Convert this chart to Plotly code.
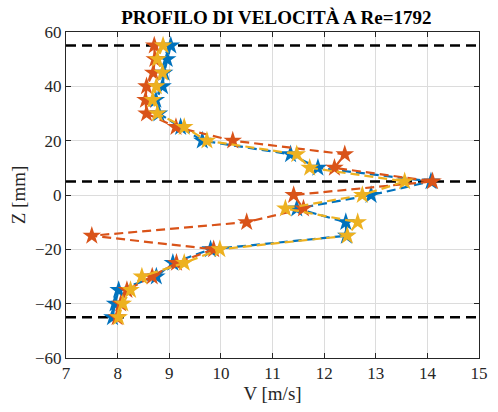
import plotly.graph_objects as go

z = [55, 50, 45, 40, 35, 30, 25, 20, 15, 10, 5, 0, -5, -10, -15, -20, -25, -30, -35, -40, -45]
v_blue = [9.03, 8.96, 8.90, 8.87, 8.74, 8.80, 9.22, 9.64, 11.35, 11.88, 14.07, 12.91, 11.47, 12.42, 12.43, 9.80, 9.07, 8.75, 8.02, 7.95, 7.90]
v_orange = [8.71, 8.72, 8.69, 8.56, 8.54, 8.56, 9.13, 10.23, 12.40, 12.20, 14.10, 11.41, 11.60, 10.50, 7.50, 9.86, 9.14, 8.67, 8.18, 8.06, 7.99]
v_yellow = [8.88, 8.77, 8.87, 8.75, 8.68, 8.77, 9.29, 9.73, 11.47, 11.72, 13.56, 12.74, 11.25, 12.65, 12.45, 9.98, 9.29, 8.47, 8.25, 8.10, 8.02]
ref_lines = [55, 5, -45]
x_range = [7, 15]
y_range = [-60, 60]

fig = go.Figure()
for zr in ref_lines:
    fig.add_trace(go.Scatter(x=x_range, y=[zr, zr], mode="lines",
                             line=dict(color="black", width=2.5, dash="10px,6px"),
                             showlegend=False, hoverinfo="skip"))

series = [(v_blue, "#0072BD"), (v_orange, "#D95319"), (v_yellow, "#EDB120")]
for vals, col in series:
    fig.add_trace(go.Scatter(x=vals, y=z, mode="lines+markers",
                             line=dict(color=col, width=2.2, dash="9px,5px"),
                             marker=dict(symbol="star", size=14, color=col,
                                         line=dict(width=0)),
                             showlegend=False))

axis_common = dict(showgrid=True, gridcolor="#dcdcdc", gridwidth=1,
                   zeroline=False, showline=True, linecolor="#262626", linewidth=1,
                   mirror="ticks", ticks="inside", ticklen=5, tickcolor="#262626",
                   tickfont=dict(family="Liberation Serif", size=17, color="#262626"))

fig.update_layout(
    width=498, height=412,
    margin=dict(l=66, r=10, t=32, b=54),
    paper_bgcolor="white", plot_bgcolor="white",
    title=dict(text="<b>PROFILO DI VELOCITÀ A Re=1792</b>", x=0.555, xanchor="center",
               y=0.975, yanchor="top",
               font=dict(family="Liberation Serif", size=19, color="black")),
    xaxis=dict(range=x_range, tickmode="linear", tick0=7, dtick=1,
               title=dict(text="V [m/s]", font=dict(family="Liberation Serif", size=19, color="#262626"), standoff=2),
               **axis_common),
    yaxis=dict(range=y_range, tickmode="linear", tick0=-60, dtick=20,
               title=dict(text="Z [mm]", font=dict(family="Liberation Serif", size=19, color="#262626"), standoff=4),
               **axis_common),
)

fig.write_html("out.html")
